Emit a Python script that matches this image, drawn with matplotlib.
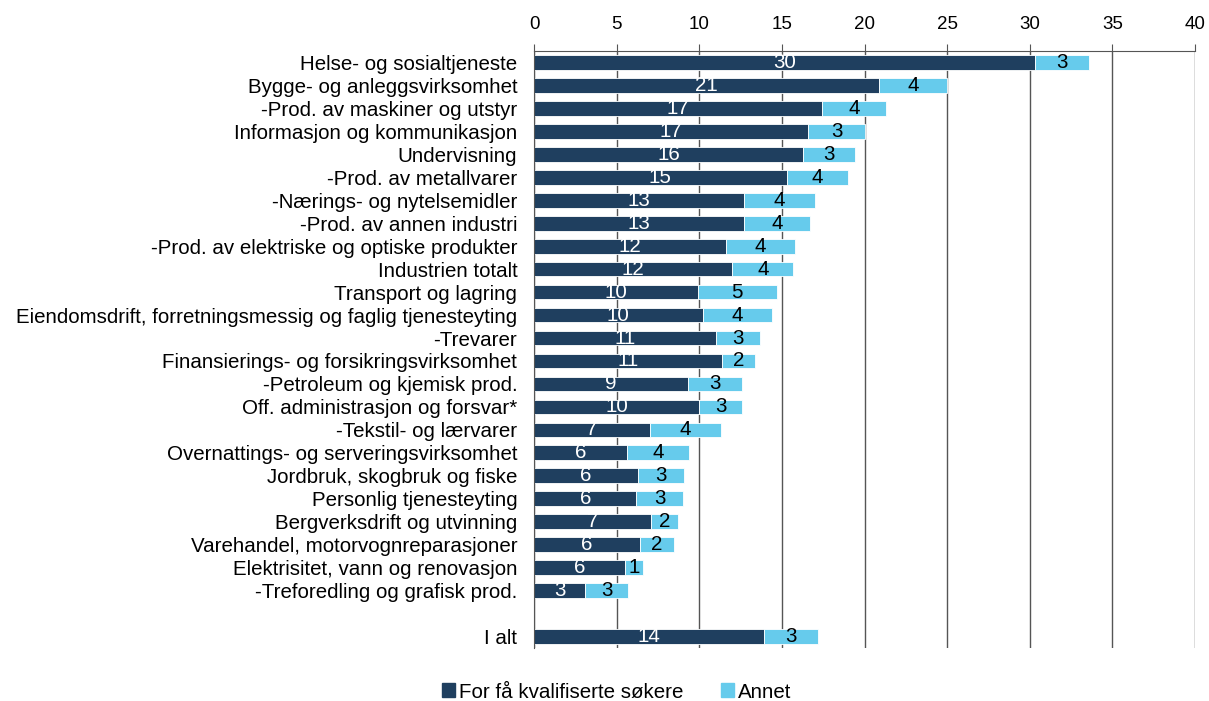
import numpy as np
import matplotlib.pyplot as plt
from matplotlib.patches import Patch

plt.rcParams['font.family'] = ['Liberation Sans', 'DejaVu Sans']

categories = [
    "Helse- og sosialtjeneste",
    "Bygge- og anleggsvirksomhet",
    "-Prod. av maskiner og utstyr",
    "Informasjon og kommunikasjon",
    "Undervisning",
    "-Prod. av metallvarer",
    "-Nærings- og nytelsemidler",
    "-Prod. av annen industri",
    "-Prod. av elektriske og optiske produkter",
    "Industrien totalt",
    "Transport og lagring",
    "Eiendomsdrift, forretningsmessig og faglig tjenesteyting",
    "-Trevarer",
    "Finansierings- og forsikringsvirksomhet",
    "-Petroleum og kjemisk prod.",
    "Off. administrasjon og forsvar*",
    "-Tekstil- og lærvarer",
    "Overnattings- og serveringsvirksomhet",
    "Jordbruk, skogbruk og fiske",
    "Personlig tjenesteyting",
    "Bergverksdrift og utvinning",
    "Varehandel, motorvognreparasjoner",
    "Elektrisitet, vann og renovasjon",
    "-Treforedling og grafisk prod.",
]
total_label = "I alt"

few_qualified = [30.3, 20.9, 17.4, 16.6, 16.3, 15.3, 12.7, 12.7, 11.6, 12.0, 9.9, 10.2,
                 11.0, 11.4, 9.3, 10.0, 7.0, 5.6, 6.3, 6.2, 7.1, 6.4, 5.5, 3.1]
other = [3.3, 4.1, 3.9, 3.4, 3.1, 3.7, 4.3, 4.0, 4.2, 3.7, 4.8, 4.2,
         2.7, 2.0, 3.3, 2.6, 4.3, 3.8, 2.8, 2.8, 1.6, 2.1, 1.1, 2.6]
total_few = 13.9
total_other = 3.3

dark = "#1f3f5f"
light = "#66cbec"
fs = 14.8

labels = categories + [total_label]
a = np.array(few_qualified + [total_few])
b = np.array(other + [total_other])
pos = np.r_[np.arange(len(categories)), len(categories) + 1]

fig = plt.figure(figsize=(12.09, 7.01), dpi=100)
ax = fig.add_axes([534 / 1209, 1 - 648 / 701, 661 / 1209, 597 / 701])

bars1 = ax.barh(pos, a, height=0.64, color=dark, edgecolor="white", linewidth=0.6)
bars2 = ax.barh(pos, b, left=a, height=0.64, color=light, edgecolor="white", linewidth=0.6)
ax.bar_label(bars1, fmt="%.0f", label_type="center", color="white", fontsize=fs)
ax.bar_label(bars2, fmt="%.0f", label_type="center", color="black", fontsize=fs)

ax.set_xlim(0, 40)
ax.set_ylim(25.5, -0.5)
ax.set_xticks(range(0, 41, 5))
ax.xaxis.tick_top()
ax.tick_params(axis="x", direction="out", length=5, color="#555555", labelsize=13.5, pad=8)
ax.set_yticks(pos)
ax.set_yticklabels(labels, fontsize=fs)
ax.tick_params(axis="y", length=0, pad=12)
ax.grid(axis="x", color="#555555", linewidth=1)
ax.set_axisbelow(True)
for s in ["right", "bottom"]:
    ax.spines[s].set_visible(False)
ax.spines["top"].set_color("#555555")
ax.spines["left"].set_color("#555555")

handles = [Patch(color=dark, label="For få kvalifiserte søkere"),
           Patch(color=light, label="Annet")]
fig.legend(handles=handles, loc="center", bbox_to_anchor=(0.51, 1 - 692 / 701), ncol=2,
           frameon=False, fontsize=fs, handlelength=0.65, handleheight=0.65,
           handletextpad=0.2, columnspacing=1.8)

fig.savefig("out.png", dpi=100)
